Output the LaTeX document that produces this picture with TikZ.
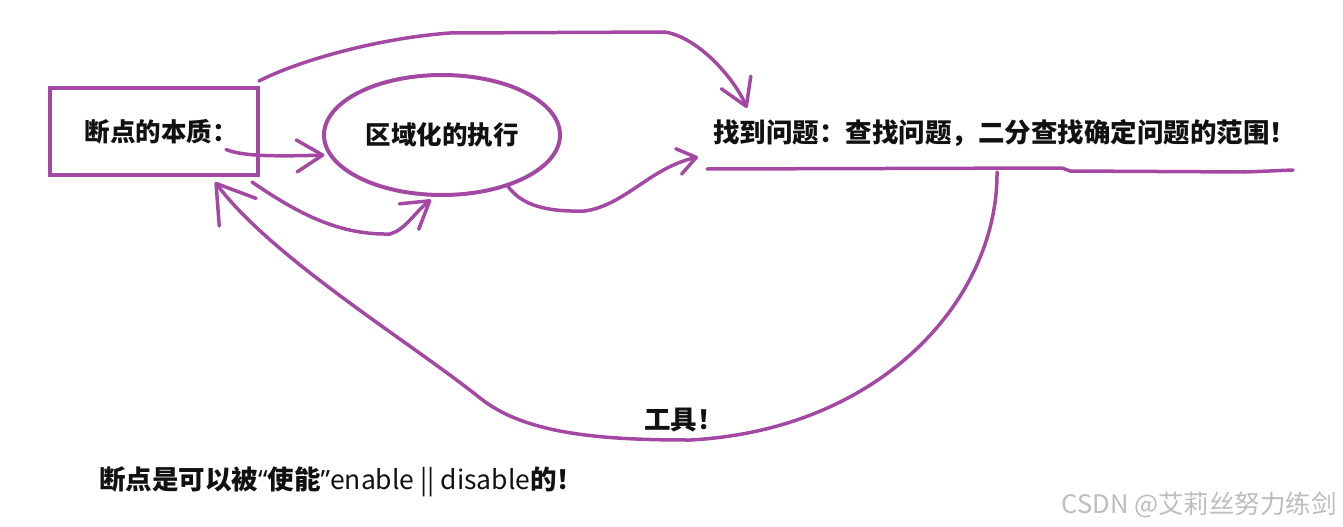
\documentclass[tikz,border=0pt]{standalone}
\usepackage{fontspec}
\setmainfont{Noto Sans CJK SC}
\newfontfamily\latinfont{Noto Sans}
\usetikzlibrary{arrows.meta,shapes.geometric,calc}
\definecolor{plum}{HTML}{A349A4}
\definecolor{ink}{HTML}{111111}
\definecolor{wmark}{HTML}{BDBDBD}
\tikzset{
  pen/.style={draw=plum,line width=3.5pt,line cap=round,line join=round},
  barb/.style={-{Straight Barb[length=26pt,width=32pt,round]}},
  smallbarb/.style={-{Straight Barb[length=18pt,width=26pt,round]}},
  bigbarb/.style={-{Straight Barb[length=36pt,width=46pt,round]}},
  word/.style={text=ink,inner sep=0pt,
               font=\bfseries\fontsize{26.5pt}{30pt}\selectfont},
  boxnode/.style={draw=plum,line width=4pt,minimum width=208pt,
                  minimum height=87pt,inner sep=0pt},
  ovalnode/.style={ellipse,draw=plum,line width=4pt,minimum width=236pt,
                   minimum height=120pt,inner sep=0pt}
}

\begin{document}
\begin{tikzpicture}[x=1pt,y=-1pt]
  \useasboundingbox (0,0) rectangle (1343,527);

  \node[boxnode,word,font=\bfseries\fontsize{25.5pt}{28pt}\selectfont] (box) at (154,131.5) {\hspace*{14pt}断点的本质：};
  \node[ovalnode,word,font=\bfseries\fontsize{25.5pt}{28pt}\selectfont] (oval) at (442,135) {区域化的执行};
  \node[word,anchor=west] (goal) at (713,133) {找到问题：查找问题，二分查找确定问题的范围！};
  \node[word,anchor=west] (tool) at (644,420) {工具！};
  \node[word,anchor=west,font=\bfseries\fontsize{26.5pt}{28pt}\selectfont] (note) at (99,482)
    {断点是可以被{\latinfont“}使能{\latinfont”}{\mdseries enable || disable}的！};
  \node[anchor=east,inner sep=0pt,text=wmark,font=\fontsize{25.5pt}{28pt}\selectfont] (mark) at (1337,505)
    {CSDN @艾莉丝努力练剑};

  % hand drawn underline under the goal text
  \coordinate (ul-a) at (707,169);
  \coordinate (ul-b) at (1293,170);
  \coordinate (ul-c) at (997,172);
  \draw[pen] (ul-a) -- (1062,168) -- (1070,171) -- (1245,172) -- (ul-b);

  % arrows
  \draw[pen,barb] ([shift={(-34,18)}]box.east) .. controls (240,155) and (262,157) .. ([xshift=-4pt]oval.190);
  \draw[pen,barb] ([shift={(-1,-5)}]box.north east) .. controls (300,60) and (380,38) .. (450,33)
    -- (665,32) .. controls (700,38) and (735,80) .. ([shift={(34,-25)}]goal.west);
  \draw[pen,barb] ([shift={(-8,5)}]box.south east) .. controls (300,215) and (340,235) .. (390,234)
    .. controls (405,230) and (415,212) .. ([shift={(0,3)}]oval.260);
  \draw[pen,smallbarb] (oval.322) .. controls (522,205) and (545,212) .. (585,211)
    .. controls (625,205) and (650,168) .. ([shift={(-15,24)}]goal.west);
  \draw[pen,bigbarb] (ul-c) .. controls (998,300) and (880,430) .. (690,440)
    .. controls (600,440) and (525,434) .. (480,398)
    .. controls (410,342) and (272,258) .. ([shift={(61,5)}]box.south);
\end{tikzpicture}
\end{document}
